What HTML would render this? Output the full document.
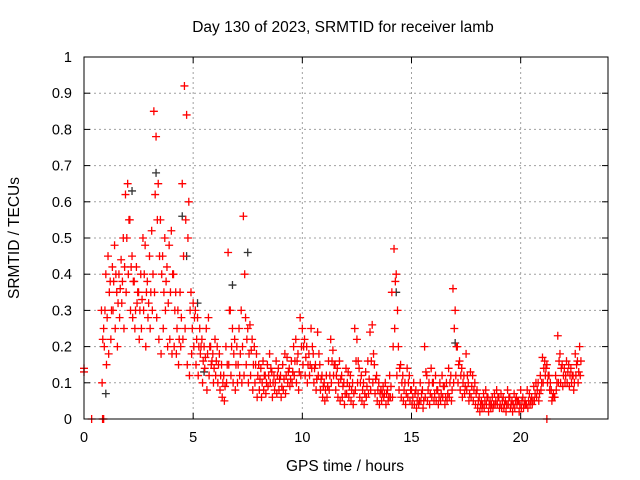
<!DOCTYPE html>
<html><head><meta charset="utf-8"><style>
html,body{margin:0;padding:0;background:#fff;}
svg{display:block;font-family:"Liberation Sans",Arial,sans-serif;}
</style></head><body>
<svg id="chart" width="640" height="480" viewBox="0 0 640 480">
<rect x="0" y="0" width="640" height="480" fill="#fff"/>
<text x="343" y="32" text-anchor="middle" font-size="15.5">Day 130 of 2023, SRMTID for receiver lamb</text>
<text transform="translate(19,238) rotate(-90)" text-anchor="middle" font-size="15.5">SRMTID / TECUs</text>
<text x="345" y="471" text-anchor="middle" font-size="15.5">GPS time / hours</text>
<g id="grid"></g><g id="ticks"></g><g id="pts"></g>
<rect x="84" y="57" width="524" height="362" fill="none" stroke="#000" stroke-width="1"/>
</svg>
<script>
const xTicks=[0,5,10,15,20];
const yTicks=[0,0.1,0.2,0.3,0.4,0.5,0.6,0.7,0.8,0.9,1];
const yTickLabels=["0","0.1","0.2","0.3","0.4","0.5","0.6","0.7","0.8","0.9","1"];
const tStart=0.8, tStep=0.1;
const seriesA=[.30,.25,.40,
.45,.38,.42,.48,.35,.40,.44,.50,.62,.65,
.55,.45,.38,.42,.35,.40,.50,.48,.38,.45,
.52,.85,.78,.65,.55,.45,.50,.42,.48,.52,
.40,.35,.30,.35,.65,.92,.84,.60,.35,.32,
.30,.28,.25,.22,.20,.25,.28,.20,.18,.22,
.20,.18,.15,.12,.20,.46,.30,.25,.22,.20,
.25,.30,.56,.28,.25,.26,.22,.20,.18,.15,
.14,.16,.12,.15,.18,.13,.12,.16,.14,.12,
.15,.18,.17,.14,.16,.20,.22,.18,.28,.25,
.22,.20,.18,.25,.18,.15,.24,.15,.12,.10,
.12,.16,.22,.19,.15,.14,.16,.12,.10,.14,
.13,.12,.10,.25,.22,.14,.12,.10,.13,.16,
.24,.26,.15,.12,.10,.08,.09,.10,.08,.12,
.35,.47,.40,.20,.15,.12,.10,.14,.12,.08,
.10,.08,.07,.10,.08,.20,.12,.10,.14,.10,
.12,.08,.10,.12,.09,.10,.14,.12,.36,.30,
.20,.16,.14,.12,.18,.10,.13,.12,.10,.08,
.06,.05,.07,.08,.06,.05,.06,.07,.08,.06,
.07,.06,.05,.08,.06,.05,.07,.06,.05,.08,
.06,.05,.08,.07,.06,.09,.10,.10,.12,.17,
.16,.15,.12,.08,.07,.12,.23,.18,.15,.14,
.16,.15,.14,.12,.18,.16,.20];
const seriesB=[.10,.20,.15,
.18,.22,.30,.25,.20,.28,.32,.25,.35,.40,
.30,.28,.25,.32,.22,.25,.30,.20,.28,.25,
.30,.35,.28,.22,.18,.25,.30,.20,.22,.18,
.20,.18,.15,.20,.22,.25,.15,.12,.18,.20,
.15,.12,.18,.10,.14,.08,.12,.15,.10,.12,
.10,.08,.06,.05,.10,.15,.12,.10,.08,.10,
.12,.10,.12,.15,.10,.12,.08,.10,.06,.08,
.06,.08,.07,.09,.10,.06,.08,.07,.08,.06,
.08,.07,.10,.09,.10,.12,.10,.08,.12,.15,
.12,.10,.12,.14,.10,.08,.12,.08,.06,.05,
.06,.08,.10,.12,.08,.06,.05,.06,.04,.07,
.06,.05,.04,.08,.10,.06,.05,.04,.06,.07,
.08,.10,.07,.05,.04,.05,.06,.04,.05,.06,
.06,.25,.12,.08,.06,.05,.04,.06,.05,.04,
.04,.03,.04,.05,.03,.06,.05,.04,.06,.05,
.05,.04,.05,.06,.04,.05,.06,.05,.10,.12,
.10,.08,.06,.07,.08,.05,.06,.05,.04,.03,
.02,.03,.03,.04,.02,.03,.03,.04,.04,.03,
.03,.03,.02,.04,.03,.02,.03,.04,.02,.03,
.03,.04,.03,.04,.04,.05,.06,.05,.08,.10,
.12,.10,.08,.05,.06,.08,.10,.10,.09,.10,
.10,.09,.10,.08,.12,.10,.12];
const seriesC=[.22,.30,.28,
.35,.30,.38,.40,.32,.36,.38,.42,.50,.55,
.42,.38,.30,.35,.30,.33,.40,.35,.32,.35,
.40,.62,.55,.45,.40,.35,.38,.32,.35,.40,
.30,.25,.22,.28,.45,.55,.50,.30,.25,.28,
.22,.20,.20,.16,.17,.18,.20,.16,.14,.16,
.15,.12,.10,.09,.15,.30,.20,.18,.15,.15,
.18,.20,.40,.22,.18,.19,.15,.15,.12,.11,
.10,.12,.10,.12,.14,.10,.10,.12,.11,.09,
.11,.12,.13,.11,.13,.16,.16,.13,.20,.20,
.17,.15,.15,.20,.14,.11,.18,.11,.09,.08,
.09,.12,.16,.15,.12,.10,.11,.09,.07,.10,
.09,.08,.07,.16,.16,.10,.08,.07,.09,.11,
.16,.18,.11,.08,.07,.07,.07,.07,.06,.09,
.20,.38,.30,.14,.10,.08,.07,.10,.08,.06,
.07,.05,.05,.07,.05,.13,.08,.07,.10,.07,
.08,.06,.07,.09,.06,.07,.10,.08,.25,.20,
.15,.12,.10,.09,.12,.07,.09,.08,.07,.05,
.04,.04,.05,.06,.04,.04,.04,.05,.06,.04,
.05,.04,.04,.06,.04,.04,.05,.05,.04,.05,
.04,.04,.05,.05,.05,.07,.08,.07,.10,.14,
.14,.12,.10,.06,.06,.10,.16,.14,.12,.12,
.13,.12,.12,.10,.15,.13,.16];
const extraTimes=[0,0,0.35,0.85,0.9,21.2];
const extraVals=[0.13,0.14,0,0,0,0];
const grayTimes=[1.0,2.2,3.3,4.5,4.7,5.5,6.8,7.5,14.3,17.0,5.2];
const grayVals=[0.07,0.63,0.68,0.56,0.45,0.13,0.37,0.46,0.35,0.21,0.32];

const NS='http://www.w3.org/2000/svg';
const X0=84,X1=608,Y0=419,Y1=57,XMAX=24;
function xs(t){return X0+t*(X1-X0)/XMAX;}
function ys(v){return Y0-v*(Y0-Y1);}
function mk(tag,a,parent){const e=document.createElementNS(NS,tag);for(const k in a)e.setAttribute(k,a[k]);parent.appendChild(e);return e;}
const grid=document.getElementById('grid'),ticks=document.getElementById('ticks'),pts=document.getElementById('pts');
xTicks.forEach(t=>{const x=xs(t);
 if(t>0){const g=mk('line',{x1:x,x2:x,y1:Y1,y2:Y0,stroke:'#a0a0a0','stroke-dasharray':'2,3'},grid);
 
 }
 mk('line',{x1:x,x2:x,y1:Y0,y2:Y0-6,stroke:'#000'},ticks);
 mk('line',{x1:x,x2:x,y1:Y1,y2:Y1+6,stroke:'#000'},ticks);
 const l=mk('text',{x:x,y:Y0+23,'text-anchor':'middle','font-size':'14.5'},ticks);l.textContent=String(t);
 
 
});
yTicks.forEach((v,i)=>{const y=ys(v);
 if(v>0&&v<1){const g=mk('line',{x1:X0,x2:X1,y1:y,y2:y,stroke:'#a0a0a0','stroke-dasharray':'2,3'},grid);
 
 }
 mk('line',{x1:X0,x2:X0+6,y1:y,y2:y,stroke:'#000'},ticks);
 mk('line',{x1:X1,x2:X1-6,y1:y,y2:y,stroke:'#000'},ticks);
 const l=mk('text',{x:X0-12,y:y+5,'text-anchor':'end','font-size':'14.5'},ticks);l.textContent=yTickLabels[i];
 
 
});
function plus(t,v,color){const x=xs(t),y=ys(v);
 const p=mk('path',{d:`M${x-4},${y}h8M${x},${y-4}v8`,stroke:color,'stroke-width':'1.3',fill:'none'},pts);
 
 }
grayTimes.forEach((t,i)=>plus(t,grayVals[i],'#333'));
seriesA.forEach((v,i)=>plus(tStart+i*tStep,v,'#f00'));
seriesB.forEach((v,i)=>plus(tStart+i*tStep+0.03,v,'#f00'));
seriesC.forEach((v,i)=>plus(tStart+i*tStep+0.06,v,'#f00'));
extraTimes.forEach((t,i)=>plus(t,extraVals[i],'#f00'));
</script>
</body></html>
